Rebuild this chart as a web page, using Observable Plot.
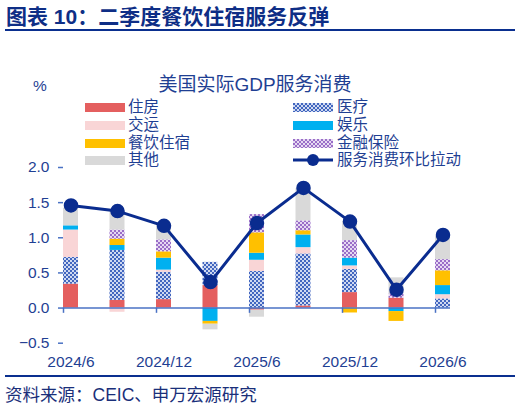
<!DOCTYPE html>
<html>
<head>
<meta charset="utf-8">
<script src="https://cdn.jsdelivr.net/npm/d3@7"></script>
<script src="https://cdn.jsdelivr.net/npm/@observablehq/plot@0.6"></script>
<style>
  html, body { margin: 0; padding: 0; background: #fff; }
  body { width: 523px; height: 412px; position: relative; overflow: hidden;
         font-family: "Liberation Sans", "Noto Sans CJK SC", sans-serif; color: #1f3f93; }
  .abs { position: absolute; white-space: nowrap; }
  #title { left: 6px; top: 4px; font-size: 21px; font-weight: bold; color: #0e2e86; line-height: 26px; }
  .hr { position: absolute; left: 5px; width: 510px; height: 2px; background: #0a2f8f; }
  #ctitle { left: 0; width: 510px; text-align: center; top: 73px; font-size: 19px; line-height: 24px; color: #1f3f93; }
  #pct { left: 33px; top: 76px; font-size: 15.5px; line-height: 20px; }
  #footer { left: 5px; top: 384px; font-size: 17.5px; line-height: 22px; color: #1a2f7a; }
  #chart { position: absolute; left: 0; top: 140px; z-index: 1; }
  #legend { position: absolute; left: 0; top: 0; z-index: 2; }
  .lg { position: absolute; font-size: 15.5px; line-height: 18px; white-space: nowrap; }
</style>
</head>
<body>
<svg width="0" height="0" style="position:absolute">
  <defs>
    <pattern id="pMed" patternUnits="userSpaceOnUse" width="4" height="4">
      <rect width="4" height="4" fill="#cfd9f1"></rect>
      <rect x="0" y="0" width="2" height="2" fill="#4266bf"></rect>
      <rect x="2" y="2" width="2" height="2" fill="#4266bf"></rect>
    </pattern>
    <pattern id="pFin" patternUnits="userSpaceOnUse" width="4" height="4">
      <rect width="4" height="4" fill="#e6d9f2"></rect>
      <rect x="0" y="0" width="2" height="2" fill="#9a6ec8"></rect>
      <rect x="2" y="2" width="2" height="2" fill="#9a6ec8"></rect>
    </pattern>
  </defs>
</svg>
<div id="title" class="abs">图表 10：二季度餐饮住宿服务反弹</div>
<div class="hr" style="top:29px"></div>
<div id="ctitle" class="abs">美国实际GDP服务消费</div>
<div id="pct" class="abs">%</div>
<div id="chart"></div>
<div id="legend"></div>
<div class="hr" style="top:375px"></div>
<div id="footer" class="abs">资料来源：CEIC、申万宏源研究</div>
<script>
// ---- data ----
const quarters = ["2024/6","2024/9","2024/12","2025/3","2025/6","2025/9","2025/12","2026/3","2026/6"];
const tickLabels = ["2024/6","2024/12","2025/6","2025/12","2026/6"];
const seriesNames = ["住房","医疗","交运","娱乐","餐饮住宿","金融保险","其他"];
const housing     = [0.34, 0.11, 0.12, 0.32, -0.03, 0.03, 0.22, 0.14, 0.00];
const medical     = [0.38, 0.71, 0.39, 0.33, 0.52, 0.74, 0.33, 0.00, 0.13];
const transport   = [0.39, -0.06, 0.03, 0.00, 0.16, 0.09, 0.05, 0.00, 0.06];
const recreation  = [0.06, 0.07, 0.17, -0.19, 0.10, 0.18, 0.11, -0.05, 0.13];
const foodLodging = [0.00, 0.09, 0.09, -0.04, 0.29, 0.06, -0.07, -0.14, 0.21];
const finance     = [0.00, 0.13, 0.17, 0.00, 0.26, 0.14, 0.25, 0.06, 0.16];
const other       = [0.25, 0.27, 0.20, -0.08, -0.10, 0.46, 0.27, 0.23, 0.33];
const servicesTotal = [1.46, 1.38, 1.17, 0.37, 1.21, 1.71, 1.23, 0.26, 1.04];
const lineName = "服务消费环比拉动";

const colors = ["#e45f5f", "url(#pMed)", "#f9d5d6", "#00b0f0", "#ffc000", "url(#pFin)", "#d9d9d9"];
const navy = "#0a2c8f";
const axisBlue = "#4a72c4";

// ---- build table ----
const seriesValues = [housing, medical, transport, recreation, foodLodging, finance, other];
const W = 15 / 46.5; // bar width in category units
const rows = [];
seriesNames.forEach((s, k) => {
  seriesValues[k].forEach((v, i) => {
    rows.push({series: s, i, i2: i + W, value: v});
  });
});
const lineData = servicesTotal.map((v, i) => ({x: i + W / 2, value: v}));
const tickIdx = [0, 2, 4, 6, 8];

const plot = Plot.plot({
  width: 523,
  height: 235,
  marginTop: 27,
  marginBottom: 32.3,
  marginLeft: 63,
  marginRight: 73,
  style: {fontFamily: '"Liberation Sans", "Noto Sans CJK SC", sans-serif', fontSize: "15.5px", color: "#1f3f93", background: "transparent", overflow: "visible"},
  x: {type: "linear", domain: [0, 8 + W]},
  y: {domain: [-0.5, 2.0]},
  color: {type: "ordinal", domain: seriesNames, range: colors},
  marks: [
    Plot.rectY(rows, Plot.stackY({x1: "i", x2: "i2", y: "value", fill: "series", order: null})),
    Plot.ruleY([0], {stroke: axisBlue, strokeWidth: 1.5}),
    Plot.ruleX(tickIdx, {x: d => d, y1: 0, y2: -0.075, stroke: axisBlue, strokeWidth: 1.5}),
    Plot.axisY({ticks: [-0.5, 0, 0.5, 1.0, 1.5, 2.0], tickFormat: d3.format(".1f"), tickSize: 5, tickPadding: 9,
                stroke: axisBlue, strokeWidth: 1.5, fill: "#1f3f93", label: null, line: true}),
    Plot.axisX({ticks: tickIdx.map(i => i + W / 2), tickFormat: (d, j) => tickLabels[j], tickSize: 0, tickPadding: 13,
                fill: "#1f3f93", label: null}),
    Plot.line(lineData, {x: "x", y: "value", stroke: navy, strokeWidth: 3}),
    Plot.dot(lineData, {x: "x", y: "value", r: 6.5, fill: navy, stroke: navy})
  ]
});
document.getElementById("chart").appendChild(plot);

// ---- legend ----
const legend = document.getElementById("legend");
const leftCol = [["住房", 0], ["交运", 2], ["餐饮住宿", 4], ["其他", 6]];
const rightCol = [["医疗", 1], ["娱乐", 3], ["金融保险", 5]];
const rowY = [107, 125, 143, 160];
function addSwatch(x, y, fill) {
  const s = document.createElementNS("http://www.w3.org/2000/svg", "svg");
  s.setAttribute("width", 40); s.setAttribute("height", 9);
  s.style.position = "absolute"; s.style.left = x + "px"; s.style.top = (y - 4.5) + "px";
  const r = document.createElementNS("http://www.w3.org/2000/svg", "rect");
  r.setAttribute("width", 40); r.setAttribute("height", 9); r.setAttribute("fill", fill);
  s.appendChild(r); legend.appendChild(s);
}
function addLabel(x, y, text) {
  const d = document.createElement("div");
  d.className = "lg"; d.style.left = x + "px"; d.style.top = (y - 9.5) + "px"; d.textContent = text;
  legend.appendChild(d);
}
leftCol.forEach(([name, k], r) => { addSwatch(85, rowY[r], colors[k]); addLabel(128, rowY[r], name); });
rightCol.forEach(([name, k], r) => { addSwatch(293, rowY[r], colors[k]); addLabel(337, rowY[r], name); });
// line legend
(function () {
  const s = document.createElementNS("http://www.w3.org/2000/svg", "svg");
  s.setAttribute("width", 42); s.setAttribute("height", 16);
  s.style.position = "absolute"; s.style.left = "292px"; s.style.top = (rowY[3] - 8) + "px";
  s.innerHTML = `<line x1="1" x2="41" y1="8" y2="8" stroke="${navy}" stroke-width="3"></line><circle cx="21" cy="8" r="6" fill="${navy}"></circle>`;
  legend.appendChild(s);
  addLabel(337, rowY[3], lineName);
})();
</script>
</body>
</html>
